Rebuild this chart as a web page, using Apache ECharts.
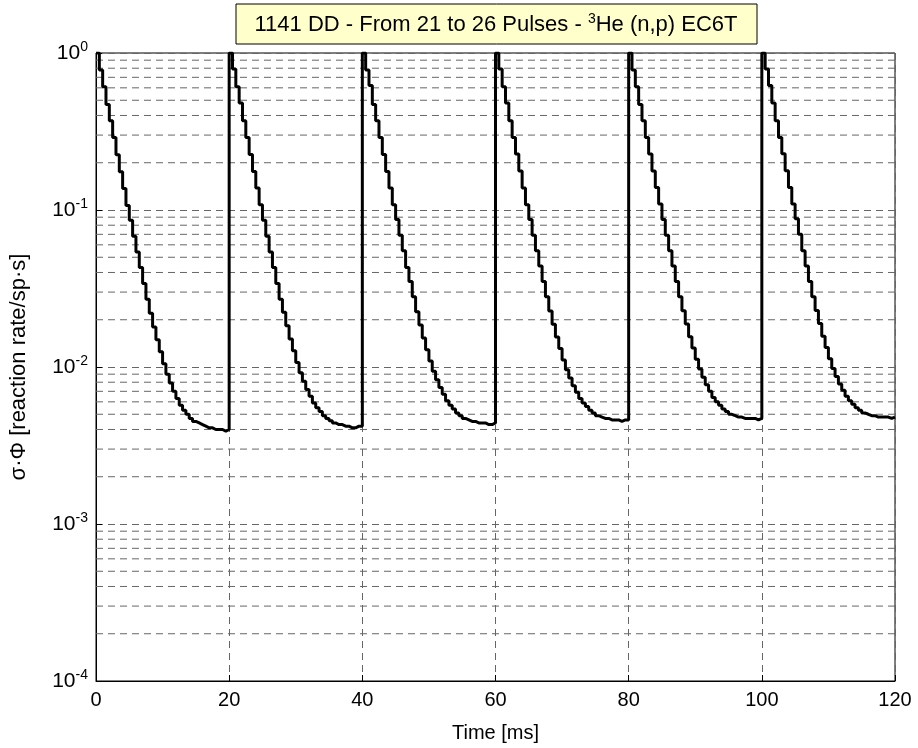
<!DOCTYPE html>
<html>
<head>
<meta charset="utf-8">
<title>1141 DD - From 21 to 26 Pulses</title>
<script src="https://cdn.jsdelivr.net/npm/echarts@6/dist/echarts.min.js"></script>
<style>
	html, body { margin: 0; padding: 0; background: #fff; }
	#chart { width: 918px; height: 748px; }
</style>
</head>
<body>
	<div id="chart"></div>
<script type="text/javascript">
	"use strict";
	// bin start times inside one pulse [ms]
	var binStart = [ 0, 0.5, 1, 1.5, 2, 2.5, 3, 3.5, 4, 4.5, 5, 5.5, 6, 6.5, 7, 7.5, 8, 8.5, 9, 9.5,
		10, 10.5, 11, 11.5, 12, 12.5, 13, 13.5, 14, 14.5, 15, 15.5, 16, 16.5, 17, 17.5, 18, 18.5, 19, 19.5 ];
	var pulseStart = [ 0, 20, 40, 60, 80, 100 ];
	var timeEnd = 120;

	// reaction rate per bin, pulses 21 .. 26
	var pulse21 = [ 1.0, 0.78, 0.61, 0.47, 0.37, 0.29, 0.225, 0.175, 0.137, 0.107, 0.086, 0.068, 0.054, 0.043, 0.034, 0.027,
		0.022, 0.018, 0.0149, 0.0125, 0.0105, 0.0090, 0.0079, 0.0070, 0.0063, 0.0057, 0.0053, 0.0050, 0.0047, 0.0045,
		0.0044, 0.0043, 0.0042, 0.0041, 0.0041, 0.0040, 0.0040, 0.0040, 0.0039, 0.0040 ];
	var pulse22 = [ 1.0, 0.79, 0.61, 0.48, 0.37, 0.29, 0.226, 0.176, 0.138, 0.108, 0.086, 0.068, 0.054, 0.043, 0.034, 0.027,
		0.0223, 0.0183, 0.0151, 0.0127, 0.0107, 0.0092, 0.0081, 0.0072, 0.0065, 0.0059, 0.0055, 0.0052, 0.0049, 0.0047,
		0.00455, 0.0044, 0.0043, 0.0043, 0.0042, 0.0042, 0.0041, 0.0041, 0.0042, 0.0042 ];
	var pulse23 = [ 1.0, 0.78, 0.62, 0.47, 0.37, 0.29, 0.226, 0.176, 0.138, 0.108, 0.087, 0.069, 0.055, 0.043, 0.035, 0.028,
		0.0225, 0.0185, 0.0153, 0.0129, 0.0109, 0.0094, 0.0083, 0.0074, 0.0067, 0.0061, 0.0057, 0.0054, 0.0051, 0.0049,
		0.0047, 0.0046, 0.0045, 0.0045, 0.0044, 0.0044, 0.0044, 0.0043, 0.0043, 0.0044 ];
	var pulse24 = [ 1.0, 0.79, 0.61, 0.48, 0.37, 0.29, 0.227, 0.177, 0.138, 0.108, 0.087, 0.069, 0.055, 0.044, 0.035, 0.028,
		0.0227, 0.0187, 0.0155, 0.0131, 0.0111, 0.0096, 0.0085, 0.0076, 0.0069, 0.0063, 0.0059, 0.0056, 0.0053, 0.0051,
		0.0049, 0.0048, 0.0047, 0.0047, 0.0046, 0.0046, 0.0046, 0.0045, 0.0046, 0.0046 ];
	var pulse25 = [ 1.0, 0.78, 0.61, 0.47, 0.37, 0.29, 0.227, 0.177, 0.139, 0.109, 0.087, 0.069, 0.055, 0.044, 0.035, 0.028,
		0.0228, 0.0188, 0.0156, 0.0132, 0.0112, 0.0097, 0.0086, 0.0077, 0.0070, 0.0064, 0.0060, 0.0057, 0.0054, 0.0052,
		0.0050, 0.0049, 0.0048, 0.0048, 0.0047, 0.0047, 0.0047, 0.0047, 0.0046, 0.0047 ];
	var pulse26 = [ 1.0, 0.79, 0.62, 0.48, 0.37, 0.29, 0.228, 0.178, 0.139, 0.109, 0.088, 0.070, 0.055, 0.044, 0.035, 0.028,
		0.0229, 0.0189, 0.0157, 0.0133, 0.0113, 0.0098, 0.0087, 0.0078, 0.0071, 0.0065, 0.0061, 0.0058, 0.0055, 0.0053,
		0.0051, 0.0050, 0.0049, 0.0049, 0.0048, 0.0048, 0.0048, 0.0048, 0.0047, 0.0048 ];
	var pulses = [ pulse21, pulse22, pulse23, pulse24, pulse25, pulse26 ];

	// log grid: minor lines 2..9 in every decade
	var decades = [ 1e-4, 1e-3, 1e-2, 1e-1 ];
	var minorSteps = [ 2, 3, 4, 5, 6, 7, 8, 9 ];

	var FONT = "'Liberation Sans', Arial, sans-serif";

	function buildCurve() {
		var data = [];
		for (var k = 0; k < pulses.length; k++) {
			for (var i = 0; i < binStart.length; i++) {
				data.push([ pulseStart[k] + binStart[i], pulses[k][i] ]);
			}
		}
		var last = pulses[pulses.length - 1];
		data.push([ timeEnd, last[last.length - 1] ]);
		return data;
	}

	var gridDash = {
		type : [ 7, 5 ],
		color : '#666',
		width : 1
	};

	// one flat line series per minor grid level
	function buildMinorGrid() {
		var list = [];
		for (var d = 0; d < decades.length; d++) {
			for (var m = 0; m < minorSteps.length; m++) {
				var v = +(decades[d] * minorSteps[m]).toPrecision(3);
				list.push({
					type : 'line',
					silent : true,
					showSymbol : false,
					z : 1,
					lineStyle : gridDash,
					data : [ [ pulseStart[0], v ], [ timeEnd, v ] ]
				});
			}
		}
		return list;
	}

	var chart = echarts.init(document.getElementById('chart'), null, { renderer : 'canvas' });
	var series = buildMinorGrid();
	series.push({
		name : 'EC6T',
		type : 'line',
		step : 'end',
		showSymbol : false,
		z : 5,
		lineStyle : { color : '#000', width : 3 },
		data : buildCurve()
	});

	chart.setOption({
		animation : false,
		backgroundColor : '#fff',
		grid : {
			left : 96,
			right : 23,
			top : 53,
			bottom : 65,
			show : true,
			borderColor : '#000',
			borderWidth : 1,
			backgroundColor : 'transparent'
		},
		graphic : [ {
			type : 'rect',
			shape : { x : 236, y : 4, width : 521, height : 40 },
			style : { fill : '#ffffcc', stroke : '#000', lineWidth : 1 },
			z : 10
		}, {
			type : 'text',
			x : 496,
			y : 25,
			z : 11,
			style : {
				text : '1141 DD - From 21 to 26 Pulses - {sup|3}He (n,p) EC6T',
				fill : '#000',
				font : '22px ' + FONT,
				align : 'center',
				verticalAlign : 'middle',
				rich : {
					sup : { fontSize : 14, fontFamily : FONT, verticalAlign : 'top', lineHeight : 26, padding : [ 0, 0, 9, 0 ] }
				}
			}
		} ],
		xAxis : {
			type : 'value',
			min : 0,
			max : 120,
			interval : 20,
			name : 'Time [ms]',
			nameLocation : 'middle',
			nameGap : 42,
			nameTextStyle : { color : '#000', fontSize : 20, fontFamily : FONT },
			axisLine : { lineStyle : { color : '#000', width : 1 } },
			axisTick : { inside : true, length : 6, lineStyle : { color : '#000' } },
			axisLabel : { color : '#000', fontSize : 20, fontFamily : FONT, margin : 9 },
			splitLine : { show : true, lineStyle : gridDash }
		},
		yAxis : {
			type : 'log',
			logBase : 10,
			min : 1e-4,
			max : 1,
			name : 'σ·Φ [reaction rate/sp·s]',
			nameLocation : 'middle',
			nameGap : 66,
			nameTextStyle : { color : '#000', fontSize : 22, fontFamily : FONT },
			axisLine : { show : true, lineStyle : { color : '#000', width : 1 } },
			axisTick : { inside : true, length : 6, lineStyle : { color : '#000' } },
			axisLabel : {
				color : '#000',
				fontSize : 21,
				fontFamily : FONT,
				margin : 8,
				formatter : function(v) {
					var e = Math.round(Math.log(v) / Math.LN10);
					return '10{sup|' + e + '}';
				},
				rich : {
					sup : { fontSize : 14, fontFamily : FONT, color : '#000', verticalAlign : 'top', padding : [ 0, 0, 12, 0 ] }
				}
			},
			splitLine : { show : true, lineStyle : gridDash }
		},
		series : series
	});
</script>
</body>
</html>
